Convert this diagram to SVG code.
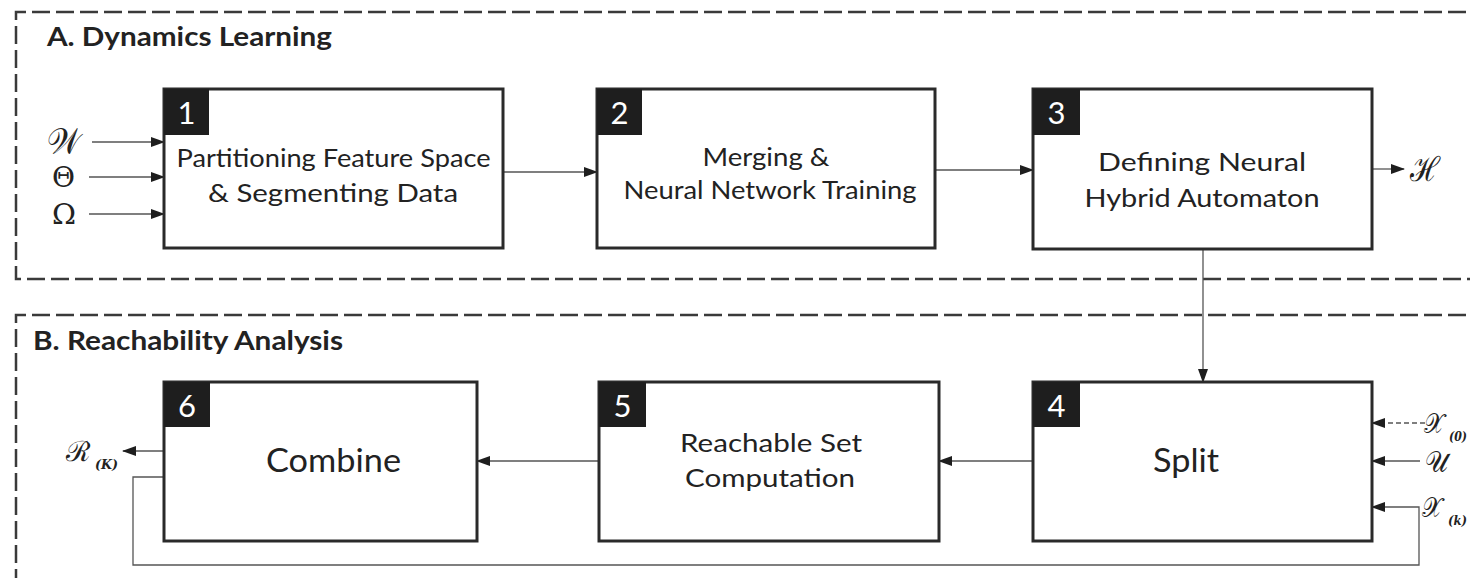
<svg xmlns="http://www.w3.org/2000/svg" width="1470" height="578" viewBox="0 0 1470 578">
<style>
.bg{fill:#fff}
.frame{fill:none;stroke:#3a3a3a;stroke-width:2.5;stroke-dasharray:18 6}
.box{fill:#fff;stroke:#2a2a2a;stroke-width:3}
.badge{fill:#1e1e1e}
.num{font-family:Lato,"Open Sans",sans-serif;font-size:31px;fill:#fff;text-anchor:middle}
.title{font-family:Lato,"Open Sans",sans-serif;font-weight:bold;font-size:26px;fill:#222}
.lbl{font-family:Lato,"Open Sans",sans-serif;font-size:25px;fill:#222;text-anchor:middle}
.big{font-family:Lato,"Open Sans",sans-serif;font-size:32px;fill:#222;text-anchor:middle}
.math{font-family:"DejaVu Serif","Liberation Serif",serif;fill:#222}
.greek{font-family:"DejaVu Serif","Liberation Serif",serif;fill:#222;font-size:27px}
.sub{font-family:"DejaVu Serif","Liberation Serif",serif;font-weight:bold;font-style:italic;fill:#222;font-size:13px}
.conn{fill:none;stroke:#555;stroke-width:1.3}
.dash{stroke-dasharray:5 3}
</style>
<defs>
<marker id="ah" markerUnits="userSpaceOnUse" markerWidth="14" markerHeight="10" refX="13" refY="5" orient="auto">
<path d="M0,0 L14,5 L0,10 z" fill="#1e1e1e"/>
</marker>
</defs>
<rect class="bg" x="0" y="0" width="1470" height="578"/>
<g id="frameA">
<path class="frame" d="M1490,12 H16 V279 H1490"/>
<text class="title" x="47" y="46" textLength="285" lengthAdjust="spacingAndGlyphs">A. Dynamics Learning</text>
</g>
<g id="frameB">
<path class="frame" d="M1490,315 H16 V600"/>
<text class="title" x="33" y="350" textLength="310" lengthAdjust="spacingAndGlyphs">B. Reachability Analysis</text>
</g>
<g id="connectors">
<line class="conn" x1="92" y1="142" x2="164" y2="142" marker-end="url(#ah)"/>
<line class="conn" x1="89" y1="177" x2="164" y2="177" marker-end="url(#ah)"/>
<line class="conn" x1="89" y1="214" x2="164" y2="214" marker-end="url(#ah)"/>
<line class="conn" x1="503" y1="172" x2="597" y2="172" marker-end="url(#ah)"/>
<line class="conn" x1="935" y1="170" x2="1033" y2="170" marker-end="url(#ah)"/>
<line class="conn" x1="1372" y1="169" x2="1404" y2="169" marker-end="url(#ah)"/>
<line class="conn" x1="1203" y1="249" x2="1203" y2="382" marker-end="url(#ah)"/>
<line class="conn dash" x1="1425" y1="423" x2="1372" y2="423" marker-end="url(#ah)"/>
<line class="conn" x1="1420" y1="461" x2="1372" y2="461" marker-end="url(#ah)"/>
<path class="conn" d="M164,477 H133 V565 H1419 V507 H1372" marker-end="url(#ah)"/>
<line class="conn" x1="1033" y1="461" x2="939" y2="461" marker-end="url(#ah)"/>
<line class="conn" x1="599" y1="461" x2="477" y2="461" marker-end="url(#ah)"/>
<line class="conn" x1="164" y1="451" x2="123" y2="451" marker-end="url(#ah)"/>
</g>
<g id="inputs">
<text class="math" x="47" y="154" font-size="36" textLength="34" lengthAdjust="spacingAndGlyphs">𝒲</text>
<text class="greek" x="52" y="187" textLength="23" lengthAdjust="spacingAndGlyphs">Θ</text>
<text class="greek" x="52" y="224" textLength="24" lengthAdjust="spacingAndGlyphs">Ω</text>
</g>
<g id="node1">
<rect class="box" x="164" y="89" width="339" height="159"/>
<rect class="badge" x="164" y="89" width="45" height="46"/>
<text class="num" x="186.5" y="124">1</text>
<text class="lbl" x="333.5" y="167" textLength="314" lengthAdjust="spacingAndGlyphs">Partitioning Feature Space</text>
<text class="lbl" x="333" y="202" textLength="250" lengthAdjust="spacingAndGlyphs">&amp; Segmenting Data</text>
</g>
<g id="node2">
<rect class="box" x="597" y="89" width="338" height="159"/>
<rect class="badge" x="597" y="89" width="45" height="46"/>
<text class="num" x="619.5" y="124">2</text>
<text class="lbl" x="766" y="166" textLength="127" lengthAdjust="spacingAndGlyphs">Merging &amp;</text>
<text class="lbl" x="770" y="199" textLength="293" lengthAdjust="spacingAndGlyphs">Neural Network Training</text>
</g>
<g id="node3">
<rect class="box" x="1033" y="89" width="339" height="160"/>
<rect class="badge" x="1033" y="89" width="47" height="46"/>
<text class="num" x="1056.5" y="124">3</text>
<text class="lbl" x="1202" y="171" textLength="208" lengthAdjust="spacingAndGlyphs">Defining Neural</text>
<text class="lbl" x="1202" y="207" textLength="235" lengthAdjust="spacingAndGlyphs">Hybrid Automaton</text>
</g>
<g id="outputH">
<text class="math" x="1410" y="181" font-size="34" textLength="30" lengthAdjust="spacingAndGlyphs">ℋ</text>
</g>
<g id="node4">
<rect class="box" x="1033" y="382" width="339" height="159"/>
<rect class="badge" x="1033" y="382" width="47" height="45"/>
<text class="num" x="1056.5" y="417">4</text>
<text class="big" x="1186" y="472" textLength="66" lengthAdjust="spacingAndGlyphs">Split</text>
</g>
<g id="node5">
<rect class="box" x="599" y="382" width="340" height="159"/>
<rect class="badge" x="599" y="382" width="47" height="45"/>
<text class="num" x="622.5" y="417">5</text>
<text class="lbl" x="771" y="452" textLength="182" lengthAdjust="spacingAndGlyphs">Reachable Set</text>
<text class="lbl" x="770" y="487" textLength="170" lengthAdjust="spacingAndGlyphs">Computation</text>
</g>
<g id="node6">
<rect class="box" x="164" y="382" width="313" height="159"/>
<rect class="badge" x="164" y="382" width="46" height="45"/>
<text class="num" x="187" y="417">6</text>
<text class="big" x="333.5" y="472" textLength="135" lengthAdjust="spacingAndGlyphs">Combine</text>
</g>
<g id="io-labels">
<text class="math" x="1424" y="433" font-size="28" textLength="20" lengthAdjust="spacingAndGlyphs">𝒳</text>
<text class="sub" x="1449" y="441" textLength="18" lengthAdjust="spacingAndGlyphs" font-style="normal">(0)</text>
<text class="math" x="1425" y="472" font-size="30" textLength="23" lengthAdjust="spacingAndGlyphs">𝒰</text>
<text class="math" x="1422" y="517" font-size="28" textLength="20" lengthAdjust="spacingAndGlyphs">𝒳</text>
<text class="sub" x="1448" y="525" textLength="19" lengthAdjust="spacingAndGlyphs">(k)</text>
<text class="math" x="66" y="461" font-size="28" textLength="24" lengthAdjust="spacingAndGlyphs">ℛ</text>
<text class="sub" x="95" y="469" textLength="23" lengthAdjust="spacingAndGlyphs">(K)</text>
</g>
</svg>
